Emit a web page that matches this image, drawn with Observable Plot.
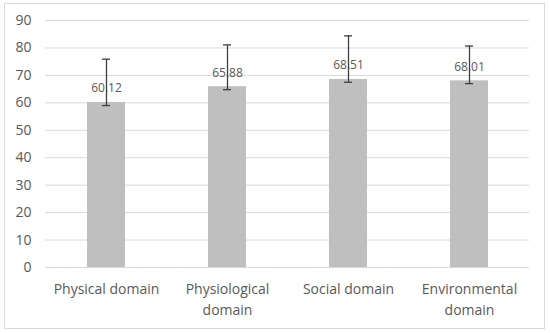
<!DOCTYPE html>
<html>
<head>
<meta charset="utf-8">
<script src="https://cdn.jsdelivr.net/npm/d3@7"></script>
<script src="https://cdn.jsdelivr.net/npm/@observablehq/plot@0.6"></script>
<style>
  html, body { margin: 0; padding: 0; background: #fff; }
  #wrap { position: relative; width: 550px; height: 333px; }
  #border { position: absolute; left: 4px; top: 3px; width: 539px; height: 324px; border: 1px solid #d9d9d9; pointer-events: none; }
  #chart { position: absolute; left: 0; top: 0; }
</style>
</head>
<body>
<div id="wrap"><div id="chart"></div><div id="border"></div></div>
<script>
const categories = ["Physical domain", "Physiological domain", "Social domain", "Environmental domain"];
const tickLabels = ["Physical domain", "Physiological\ndomain", "Social domain", "Environmental\ndomain"];
const means = [60.12, 65.88, 68.51, 68.01];
const errLow = [59.0, 64.8, 67.5, 67.0];
const errHigh = [75.9, 81.1, 84.4, 80.7];
const yTicks = [0, 10, 20, 30, 40, 50, 60, 70, 80, 90];

const data = categories.map((c, i) => ({cat: c, label: tickLabels[i], mean: means[i], lo: errLow[i], hi: errHigh[i]}));
const font = "'Open Sans', sans-serif";
const textColor = "#595959";

const chart = Plot.plot({
  width: 550,
  height: 333,
  marginLeft: 45,
  marginRight: 21,
  marginTop: 20,
  marginBottom: 66,
  style: {fontFamily: font, fontSize: "14px", color: textColor, background: "transparent"},
  x: {domain: categories, paddingInner: 0.69, paddingOuter: 0.345, label: null},
  y: {domain: [0, 90], label: null},
  marks: [
    Plot.gridY(yTicks, {stroke: "#d9d9d9", strokeOpacity: 1, strokeWidth: 1}),
    Plot.axisY({ticks: yTicks, tickSize: 0, tickPadding: 14, fontSize: 14, fill: textColor, label: null}),
    Plot.axisX({tickSize: 0, tickPadding: 12, fontSize: 14, fill: textColor, lineHeight: 1.5, label: null,
      tickFormat: (d) => tickLabels[categories.indexOf(d)]}),
    Plot.barY(data, {x: "cat", y: "mean", fill: "#bfbfbf"}),
    Plot.text(data, {x: "cat", y: "mean", text: (d) => d.mean.toFixed(2), dy: -14, fontSize: 12, fill: textColor, textAnchor: "middle"}),
    Plot.ruleX(data, {x: "cat", y1: "lo", y2: "hi", stroke: "#404040", strokeWidth: 1.3}),
    Plot.tickY(data, {x: "cat", y: "hi", stroke: "#404040", strokeWidth: 1.3, insetLeft: 15, insetRight: 15}),
    Plot.tickY(data, {x: "cat", y: "lo", stroke: "#404040", strokeWidth: 1.3, insetLeft: 15, insetRight: 15})
  ]
});
document.getElementById("chart").appendChild(chart);
</script>
</body>
</html>
